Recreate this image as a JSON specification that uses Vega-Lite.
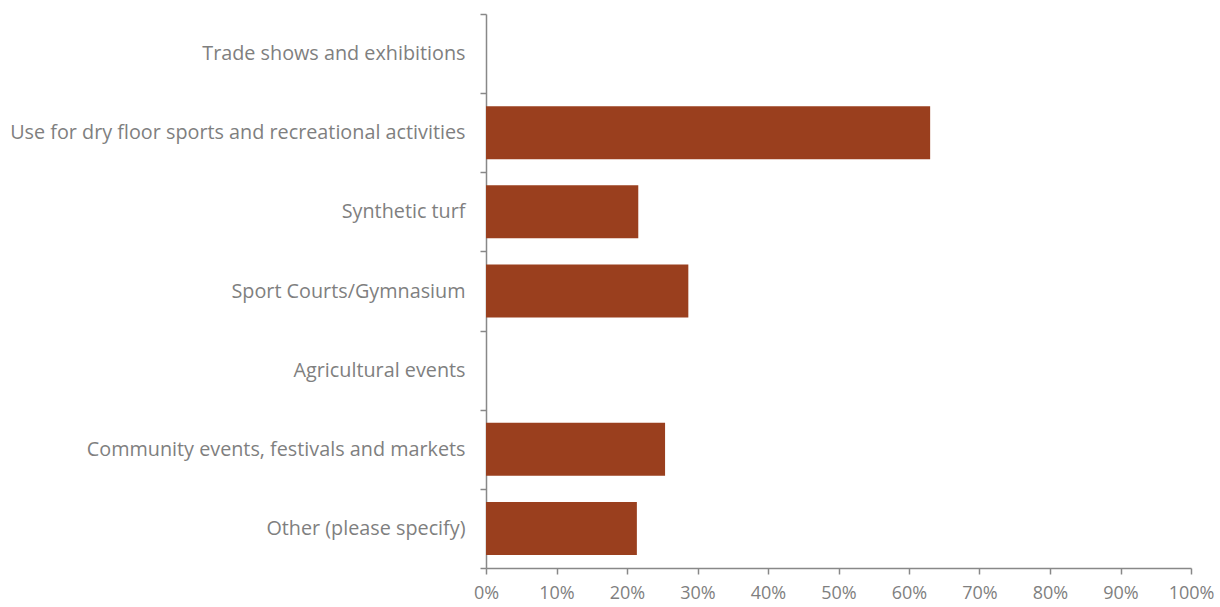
{
  "$schema": "https://vega.github.io/schema/vega-lite/v6.json",
  "autosize": "none",
  "width": 705,
  "height": 554,
  "padding": {"left": 486, "top": 14, "right": 29, "bottom": 39},
  "background": "white",
  "data": {"values": [
    {"category": "Trade shows and exhibitions", "value": 0},
    {"category": "Use for dry floor sports and recreational activities", "value": 0.63},
    {"category": "Synthetic turf", "value": 0.216},
    {"category": "Sport Courts/Gymnasium", "value": 0.287},
    {"category": "Agricultural events", "value": 0},
    {"category": "Community events, festivals and markets", "value": 0.254},
    {"category": "Other (please specify)", "value": 0.214}
  ]},
  "mark": {"type": "bar", "color": "#9A3F1E", "height": {"band": 0.67}},
  "encoding": {
    "y": {
      "field": "category", "type": "nominal", "sort": null,
      "scale": {"paddingInner": 0, "paddingOuter": 0},
      "axis": {
        "title": null, "tickBand": "extent", "tickSize": 6, "tickColor": "#888888", "tickWidth": 1.5,
        "domainColor": "#888888", "domainWidth": 1.5, "labelPadding": 15,
        "labelFont": "Open Sans", "labelFontSize": 19.8, "labelColor": "#7f7f7f", "labelLimit": 600
      }
    },
    "x": {
      "field": "value", "type": "quantitative",
      "scale": {"domain": [0, 1], "nice": false},
      "axis": {
        "title": null, "format": "%", "values": [0,0.1,0.2,0.3,0.4,0.5,0.6,0.7,0.8,0.9,1],
        "grid": false, "tickSize": 6, "tickColor": "#888888", "tickWidth": 1.5,
        "domainColor": "#888888", "domainWidth": 1.5, "labelPadding": 10,
        "labelFont": "Open Sans", "labelFontSize": 18, "labelColor": "#7f7f7f", "labelFlush": false
      }
    }
  },
  "config": {"view": {"stroke": null}}
}
